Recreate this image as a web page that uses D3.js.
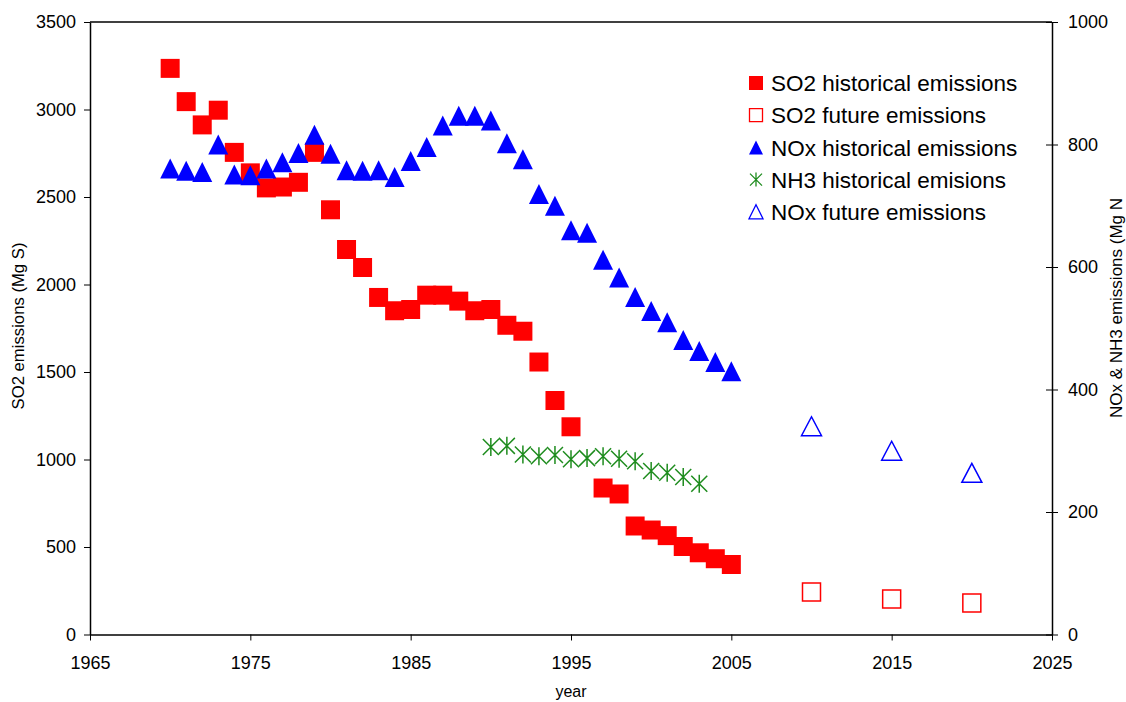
<!DOCTYPE html>
<html>
<head>
<meta charset="utf-8">
<script src="https://cdn.jsdelivr.net/npm/d3@7"></script>
<style>
  html, body { margin: 0; padding: 0; background: #fff; }
  svg { display: block; font-family: "Liberation Sans", Arial, sans-serif; }
</style>
</head>
<body>
<svg id="chart" width="1126" height="702"></svg>
<script>
// ---- data ----
const histYears = d3.range(1970, 2006);
// 1996 SO2 value not shown in the reference (null)
const so2Hist = [3235, 3045, 2912, 2996, 2755, 2638, 2552, 2557, 2584, 2755,
                 2427, 2200, 2097, 1926, 1850, 1857, 1939, 1939, 1905, 1850,
                 1857, 1767, 1733, 1557, 1337, 1187, null, 837, 803, 620,
                 597, 565, 503, 467, 433, 400];
const noxHist = [761, 757, 755, 800, 751, 750, 761, 771, 786, 816,
                 785, 758, 757, 758, 747, 773, 796, 831, 847, 847,
                 839, 802, 776, 719, 700, 660, 656, 612, 583, 551,
                 528, 510, 481, 463, 445, 430];
const nh3Years = d3.range(1990, 2004);
const nh3Hist = [306, 308, 294, 291, 293, 286, 288, 291, 287, 283, 267, 264, 257, 246];
const futureYears = [2010, 2015, 2020];
const so2Future = [243, 203, 180];
const noxFuture = [340, 300, 264];

const xTicks = [1965, 1975, 1985, 1995, 2005, 2015, 2025];
const yLeftTicks = [0, 500, 1000, 1500, 2000, 2500, 3000, 3500];
const yRightTicks = [0, 200, 400, 600, 800, 1000];

const legendItems = [
  {label: "SO2 historical emissions", type: "sqFill"},
  {label: "SO2 future emissions", type: "sqOpen"},
  {label: "NOx historical emissions", type: "triFill"},
  {label: "NH3 historical emisions", type: "star"},
  {label: "NOx future emissions", type: "triOpen"}
];

// ---- layout ----
const W = 1126, H = 702;
const m = {left: 90, right: 74, top: 22, bottom: 67.5};
const iw = W - m.left - m.right, ih = H - m.top - m.bottom;

const svg = d3.select("#chart");
const g = svg.append("g").attr("transform", `translate(${m.left},${m.top})`);

const x = d3.scaleLinear().domain([1965, 2025]).range([0, iw]);
const yL = d3.scaleLinear().domain([0, 3500]).range([ih, 0]);
const yR = d3.scaleLinear().domain([0, 1000]).range([ih, 0]);

const RED = "#ff0000", BLUE = "#0000ff", GREEN = "#1e8c1e";

// marker path generators (centered at 0,0)
function sqPath(s) { const h = s / 2; return `M${-h},${-h}H${h}V${h}H${-h}Z`; }
function triPath(w, hgt) { return `M0,${-hgt/2}L${w/2},${hgt/2}L${-w/2},${hgt/2}Z`; }
function starPath(s) { const h = s / 2; return `M${-h},${-h}L${h},${h}M${-h},${h}L${h},${-h}M0,${-h-1}V${h+1}`; }

// ---- axes ----
const axisB = d3.axisBottom(x).tickValues(xTicks).tickFormat(d3.format("d")).tickSizeInner(6).tickSizeOuter(0).tickPadding(16);
const axisL = d3.axisLeft(yL).tickValues(yLeftTicks).tickFormat(d3.format("d")).tickSizeInner(6).tickSizeOuter(0).tickPadding(8);
const axisR = d3.axisRight(yR).tickValues(yRightTicks).tickFormat(d3.format("d")).tickSizeInner(6).tickSizeOuter(0).tickPadding(10);

function styleAxis(sel) {
  sel.select(".domain").attr("stroke", "#000").attr("stroke-width", 1.5);
  sel.selectAll(".tick line").attr("stroke", "#000").attr("stroke-width", 1);
  sel.selectAll(".tick text").attr("fill", "#000").style("font-size", "18px");
}

// top border
g.append("line").attr("x1", 0).attr("x2", iw).attr("y1", 0).attr("y2", 0)
  .attr("stroke", "#000").attr("stroke-width", 1.5);

g.append("g").attr("transform", `translate(0,${ih})`).call(axisB).call(styleAxis);
g.append("g").call(axisL).call(styleAxis);
const gr = g.append("g").attr("transform", `translate(${iw},0)`).call(axisR).call(styleAxis);
// right ticks cross the axis
gr.selectAll(".tick line").attr("x1", -6);
gr.selectAll(".tick text").attr("x", 16);

// axis titles
svg.append("text").attr("x", m.left + iw / 2).attr("y", 697)
  .attr("text-anchor", "middle").style("font-size", "16px").text("year");
svg.append("text").attr("transform", `translate(24,326) rotate(-90)`)
  .attr("text-anchor", "middle").style("font-size", "16.7px").text("SO2 emissions (Mg S)");
svg.append("text").attr("transform", `translate(1122,308) rotate(-90)`)
  .attr("text-anchor", "middle").style("font-size", "17px").text("NOx & NH3 emissions (Mg N");

// ---- marks ----
const so2H = histYears.map((yr, i) => ({yr, v: so2Hist[i]})).filter(d => d.v != null);
const noxH = histYears.map((yr, i) => ({yr, v: noxHist[i]}));
const nh3H = nh3Years.map((yr, i) => ({yr, v: nh3Hist[i]}));
const so2F = futureYears.map((yr, i) => ({yr, v: so2Future[i]}));
const noxF = futureYears.map((yr, i) => ({yr, v: noxFuture[i]}));

g.append("g").selectAll("path").data(so2H).join("path")
  .attr("transform", d => `translate(${x(d.yr)},${yL(d.v)})`)
  .attr("d", sqPath(19)).attr("fill", RED);

g.append("g").selectAll("path").data(so2F).join("path")
  .attr("transform", d => `translate(${x(d.yr)},${yL(d.v)})`)
  .attr("d", sqPath(18)).attr("fill", "#fff").attr("stroke", RED).attr("stroke-width", 1.5);

g.append("g").selectAll("path").data(noxH).join("path")
  .attr("transform", d => `translate(${x(d.yr)},${yR(d.v)})`)
  .attr("d", triPath(20, 20)).attr("fill", BLUE);

g.append("g").selectAll("path").data(nh3H).join("path")
  .attr("transform", d => `translate(${x(d.yr)},${yR(d.v)})`)
  .attr("d", starPath(16)).attr("fill", "none").attr("stroke", GREEN).attr("stroke-width", 1.5);

g.append("g").selectAll("path").data(noxF).join("path")
  .attr("transform", d => `translate(${x(d.yr)},${yR(d.v)})`)
  .attr("d", triPath(20, 19)).attr("fill", "#fff").attr("stroke", BLUE).attr("stroke-width", 1.5);

// ---- legend ----
const lg = svg.append("g").attr("transform", "translate(756,83)");
const rowH = 32.2;
const items = lg.selectAll("g").data(legendItems).join("g")
  .attr("transform", (d, i) => `translate(0,${i * rowH})`);
items.append("path").attr("d", d => {
    if (d.type === "sqFill" || d.type === "sqOpen") return sqPath(d.type === "sqFill" ? 14 : 13);
    if (d.type === "star") return starPath(12);
    return triPath(14, 14);
  })
  .attr("fill", d => d.type === "sqFill" ? RED : d.type === "triFill" ? BLUE : (d.type === "star" ? "none" : "#fff"))
  .attr("stroke", d => d.type === "sqOpen" ? RED : d.type === "triOpen" ? BLUE : d.type === "star" ? GREEN : "none")
  .attr("stroke-width", 1.3);
items.append("text").attr("x", 15).attr("y", 0).attr("dy", "0.36em")
  .style("font-size", "22.5px").attr("fill", "#000").text(d => d.label);
</script>
</body>
</html>
